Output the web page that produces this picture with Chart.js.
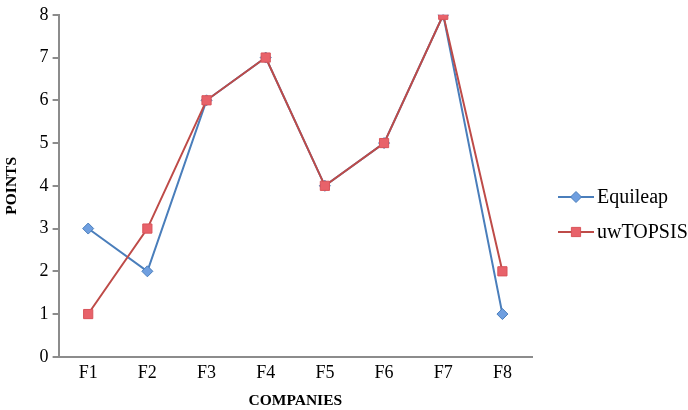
<!DOCTYPE html>
<html>
<head>
<meta charset="utf-8">
<script src="https://cdn.jsdelivr.net/npm/chart.js@4/dist/chart.umd.min.js"></script>
<style>
  html, body { margin: 0; padding: 0; background: #fff; }
  #wrap { width: 688px; height: 410px; position: relative; }
</style>
</head>
<body>
<div id="wrap"><canvas id="c"></canvas></div>
<script>
const categories = ['F1', 'F2', 'F3', 'F4', 'F5', 'F6', 'F7', 'F8'];
const equileap = [3, 2, 6, 7, 4, 5, 8, 1];
const uwTopsis = [1, 3, 6, 7, 4, 5, 8, 2];
const yTicks = [0, 1, 2, 3, 4, 5, 6, 7, 8];

const serif = '"Liberation Serif", "Times New Roman", serif';
const axisGray = '#8c8c8c';

// Legend drawn at the right: short line with the series marker, then its name
const sideLegend = {
  id: 'sideLegend',
  afterDraw(chart) {
    const ctx = chart.ctx;
    const x0 = 558, lineLen = 36;
    const rows = [197, 232];
    chart.data.datasets.forEach((ds, i) => {
      const y = rows[i];
      ctx.save();
      ctx.strokeStyle = ds.borderColor;
      ctx.lineWidth = ds.borderWidth;
      ctx.beginPath();
      ctx.moveTo(x0, y);
      ctx.lineTo(x0 + lineLen, y);
      ctx.stroke();
      ctx.fillStyle = ds.pointBackgroundColor;
      ctx.strokeStyle = ds.pointBorderColor;
      ctx.lineWidth = 1;
      Chart.helpers.drawPoint(ctx, { pointStyle: ds.pointStyle, radius: ds.pointRadius, borderWidth: 1 }, x0 + lineLen / 2, y);
      ctx.fillStyle = '#000';
      ctx.font = '20px ' + serif;
      ctx.textBaseline = 'middle';
      ctx.textAlign = 'left';
      ctx.fillText(ds.label, x0 + lineLen + 3, y + 1);
      ctx.restore();
    });
  }
};

new Chart(document.getElementById('c'), {
  type: 'line',
  data: {
    labels: categories,
    datasets: [
      {
        label: 'Equileap',
        data: equileap,
        borderColor: '#4a7ebb',
        borderWidth: 2,
        pointStyle: 'rectRot',
        pointRadius: 5.5,
        pointHoverRadius: 5.5,
        pointBackgroundColor: '#6f9fe0',
        pointBorderColor: '#4a7ebb',
        pointBorderWidth: 1,
        tension: 0,
        order: 1
      },
      {
        label: 'uwTOPSIS',
        data: uwTopsis,
        borderColor: '#be4b48',
        borderWidth: 2,
        pointStyle: 'rect',
        pointRadius: 6.5,
        pointHoverRadius: 6.5,
        pointBackgroundColor: '#e8626a',
        pointBorderColor: '#d9545a',
        pointBorderWidth: 1,
        tension: 0,
        order: 0
      }
    ]
  },
  options: {
    responsive: true,
    maintainAspectRatio: false,
    animation: false,
    layout: { padding: { top: 7, right: 156, left: 3, bottom: 0 } },
    plugins: {
      legend: { display: false },
      tooltip: { enabled: false }
    },
    scales: {
      x: {
        offset: true,
        grid: { display: true, drawOnChartArea: false, drawTicks: false },
        border: { display: true, color: axisGray, width: 2 },
        ticks: { color: '#000', font: { family: serif, size: 18 }, padding: 6 },
        title: {
          display: true,
          text: 'COMPANIES',
          color: '#000',
          font: { family: serif, size: 15.5, weight: 'bold' },
          padding: { top: 1, bottom: 0 }
        }
      },
      y: {
        min: 0,
        max: 8,
        afterBuildTicks(axis) { axis.ticks = yTicks.map(v => ({ value: v })); },
        grid: { display: true, drawOnChartArea: false, drawTicks: true, tickLength: 6, color: axisGray, lineWidth: 2 },
        border: { display: true, color: axisGray, width: 2 },
        ticks: { color: '#000', font: { family: serif, size: 18 }, padding: 4 },
        title: {
          display: true,
          text: 'POINTS',
          color: '#000',
          font: { family: serif, size: 15.5, weight: 'bold' },
          padding: { top: 0, bottom: 14 }
        }
      }
    }
  },
  plugins: [sideLegend]
});
</script>
</body>
</html>
